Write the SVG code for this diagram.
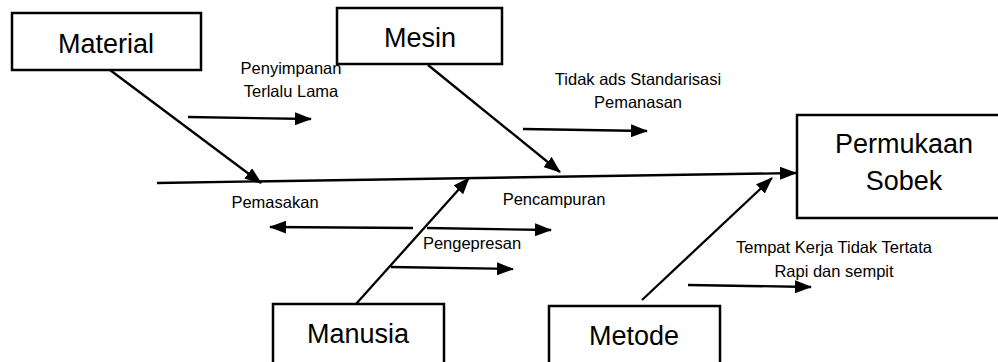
<svg xmlns="http://www.w3.org/2000/svg" width="998" height="362" viewBox="0 0 998 362">
<defs>
<style>
.box{fill:#fff;stroke:#000;stroke-width:2.5}
.big{font-family:"Liberation Sans",Arial,sans-serif;font-size:27px;fill:#000;text-anchor:middle}
.lbl{font-family:"Liberation Sans",Arial,sans-serif;font-size:16.5px;fill:#000;text-anchor:middle}
.ln{stroke:#000;stroke-width:2.3;fill:none;marker-end:url(#ah)}
</style>
<marker id="ah" viewBox="0 0 17 13" refX="16" refY="6.5" markerWidth="17" markerHeight="13" markerUnits="userSpaceOnUse" orient="auto">
<path d="M0,0 L17,6.5 L0,13 z" fill="#000"/>
</marker>
</defs>
<rect width="998" height="362" fill="#fff"/>
<g id="connectors">
<line class="ln" x1="157" y1="183" x2="796" y2="173"/>
<line class="ln" x1="110" y1="70" x2="261" y2="183"/>
<line class="ln" x1="428" y1="65" x2="560" y2="172"/>
<line class="ln" x1="356" y1="304" x2="469" y2="178"/>
<line class="ln" x1="642" y1="300" x2="772" y2="178"/>
<line class="ln" x1="188" y1="117" x2="311" y2="119"/>
<line class="ln" x1="523" y1="129" x2="647" y2="131"/>
<line class="ln" x1="413" y1="228" x2="270" y2="227"/>
<line class="ln" x1="427" y1="228" x2="551" y2="230"/>
<line class="ln" x1="391" y1="267" x2="513" y2="269"/>
<line class="ln" x1="688" y1="285" x2="811" y2="287"/>
</g>
<g id="material">
<rect class="box" x="12" y="13" width="189" height="57"/>
<text class="big" x="106" y="53">Material</text>
</g>
<g id="mesin">
<rect class="box" x="337" y="8" width="165" height="56"/>
<text class="big" x="420" y="47">Mesin</text>
</g>
<g id="permukaan-sobek">
<rect class="box" x="797" y="115" width="210" height="103"/>
<text class="big" x="904" y="153">Permukaan</text>
<text class="big" x="904" y="190">Sobek</text>
</g>
<g id="manusia">
<rect class="box" x="273" y="304" width="171" height="62"/>
<text class="big" x="358" y="343">Manusia</text>
</g>
<g id="metode">
<rect class="box" x="549" y="306" width="171" height="60"/>
<text class="big" x="634" y="345">Metode</text>
</g>
<g id="labels">
<text class="lbl" x="291" y="74">Penyimpanan</text>
<text class="lbl" x="291" y="97">Terlalu Lama</text>
<text class="lbl" x="638" y="85">Tidak ads Standarisasi</text>
<text class="lbl" x="638" y="108">Pemanasan</text>
<text class="lbl" x="275" y="208">Pemasakan</text>
<text class="lbl" x="554" y="205">Pencampuran</text>
<text class="lbl" x="472" y="249">Pengepresan</text>
<text class="lbl" x="834" y="253">Tempat Kerja Tidak Tertata</text>
<text class="lbl" x="834" y="277">Rapi dan sempit</text>
</g>
</svg>
